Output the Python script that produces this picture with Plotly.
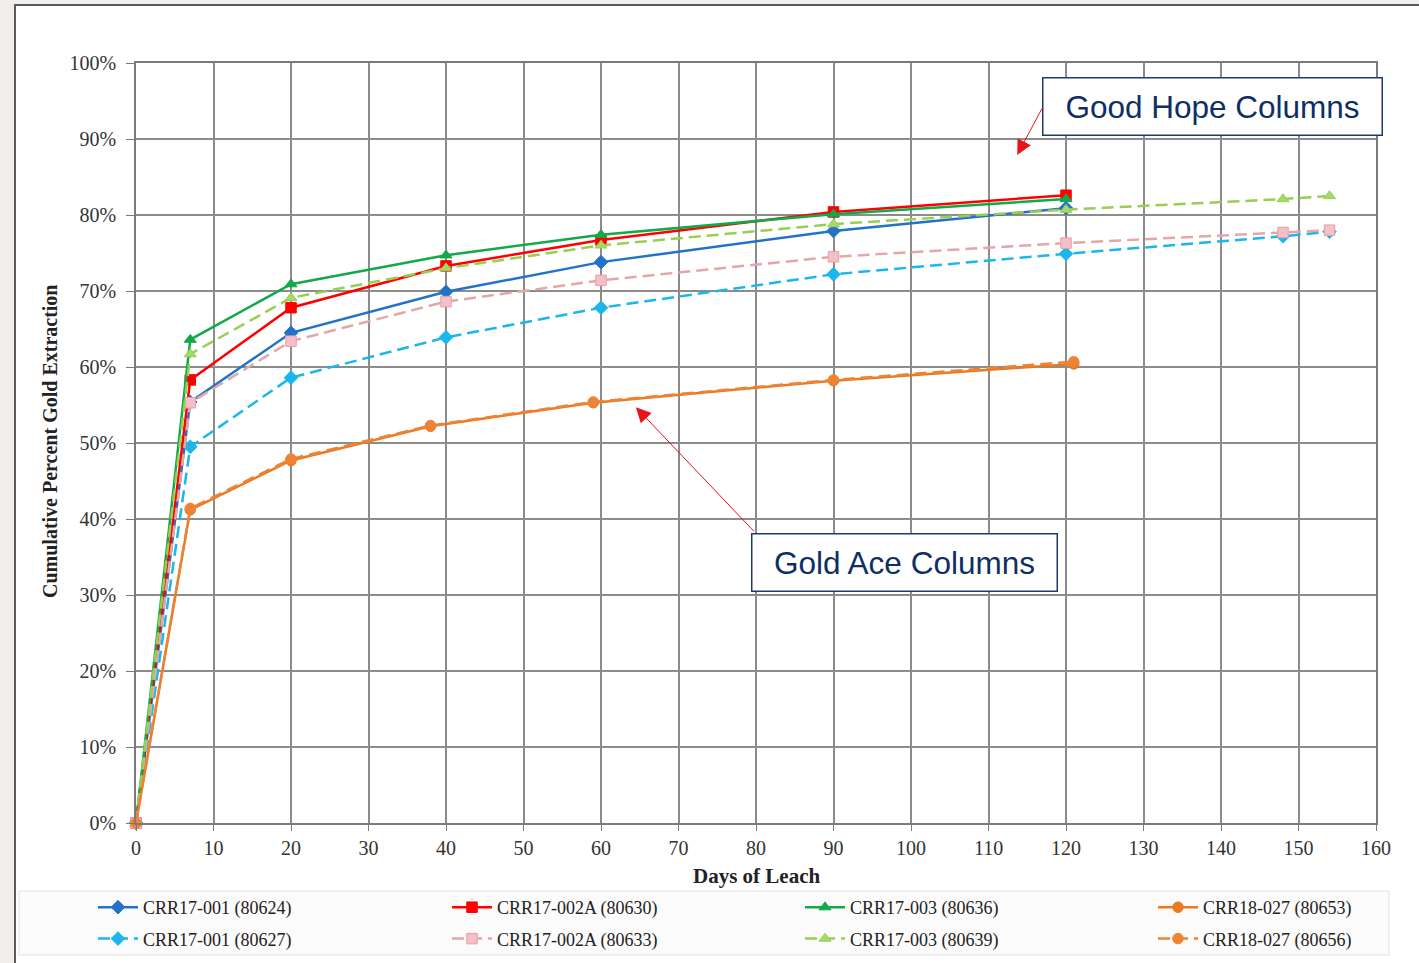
import plotly.graph_objects as go

# ---------------- data ----------------
days_gh = [0, 7, 20, 40, 60, 90, 120]
days_gh_ext = [0, 7, 20, 40, 60, 90, 120, 148, 154]
days_ga = [0, 7, 20, 38, 59, 90, 121]

crr17_001_80624 = [0.0, 0.554, 0.645, 0.699, 0.738, 0.779, 0.809]
crr17_002a_80630 = [0.0, 0.583, 0.678, 0.733, 0.767, 0.804, 0.826]
crr17_003_80636 = [0.0, 0.636, 0.709, 0.747, 0.774, 0.801, 0.821]
crr18_027_80653 = [0.0, 0.412, 0.477, 0.522, 0.553, 0.582, 0.604]

crr17_001_80627 = [0.0, 0.495, 0.586, 0.639, 0.678, 0.722, 0.749, 0.772, 0.778]
crr17_002a_80633 = [0.0, 0.553, 0.634, 0.686, 0.714, 0.745, 0.763, 0.777, 0.780]
crr17_003_80639 = [0.0, 0.617, 0.691, 0.730, 0.760, 0.788, 0.807, 0.821, 0.825]
crr18_027_80656 = [0.0, 0.414, 0.479, 0.523, 0.554, 0.583, 0.607]

x_ticks = list(range(0, 161, 10))

FONT_SERIF = "Liberation Serif, Times New Roman, serif"
FONT_SANS = "Liberation Sans, Arial, sans-serif"
DASH = "12px,6px"

# name, x, y, line colour, dash, symbol, marker fill, marker edge, legend column
series = [
    ("CRR17-001 (80624)", days_gh, crr17_001_80624, "#2372C9", "solid", "diamond", "#2372C9", "#2372C9", "legend"),
    ("CRR17-002A (80630)", days_gh, crr17_002a_80630, "#FF0000", "solid", "square", "#FF0000", "#FF0000", "legend2"),
    ("CRR17-003 (80636)", days_gh, crr17_003_80636, "#13A84A", "solid", "triangle-up", "#13A84A", "#13A84A", "legend3"),
    ("CRR18-027 (80653)", days_ga, crr18_027_80653, "#EA7A22", "solid", "circle", "#EA7A22", "#EA7A22", "legend4"),
    ("CRR17-001 (80627)", days_gh_ext, crr17_001_80627, "#1BB6EC", DASH, "diamond", "#1BB6EC", "#1BB6EC", "legend"),
    ("CRR17-002A (80633)", days_gh_ext, crr17_002a_80633, "#E3A7AA", DASH, "square", "#F4BFC6", "#E6A0A8", "legend2"),
    ("CRR17-003 (80639)", days_gh_ext, crr17_003_80639, "#97CF52", DASH, "triangle-up", "#A6D86A", "#97CF52", "legend3"),
    ("CRR18-027 (80656)", days_ga, crr18_027_80656, "#EE8433", DASH, "circle", "#EE8433", "#EE8433", "legend4"),
]

fig = go.Figure()
for i, (name, xs, ys, col, dash, sym, mfill, mline, lg) in enumerate(series):
    fig.add_trace(go.Scatter(
        x=xs, y=ys, name=name, mode="lines+markers",
        line=dict(color=col, width=2.5, dash=dash),
        marker=dict(symbol=sym, size=10.5, color=mfill, line=dict(color=mline, width=1)),
        cliponaxis=False, legend=lg, legendgroup="g%d" % i,
    ))

W, H = 1419, 963
legend_text_x = [143, 497, 850, 1203]
leg_common = dict(
    orientation="v", xref="container", yref="container",
    y=1 - 889 / H, xanchor="left", yanchor="top",
    font=dict(family=FONT_SERIF, size=18, color="#222222"),
    bgcolor="rgba(0,0,0,0)", borderwidth=0,
    traceorder="grouped", tracegroupgap=5, itemwidth=40,
)
legends = {}
for k, tx in enumerate(legend_text_x):
    key = "legend" if k == 0 else "legend%d" % (k + 1)
    legends[key] = dict(leg_common, x=(tx - 50) / W)

fig.update_layout(
    width=W, height=H,
    paper_bgcolor="#F1EFEC",
    plot_bgcolor="white",
    margin=dict(l=136, r=43, t=63, b=140, autoexpand=False),
    showlegend=True,
    font=dict(family=FONT_SERIF, color="#333333"),
    **legends,
)

fig.update_xaxes(
    range=[0, 160], tickvals=x_ticks, ticktext=[str(v) for v in x_ticks],
    showgrid=True, gridcolor="#8C8C8C", gridwidth=1.5,
    showline=True, linecolor="#7A7A7A", linewidth=1.5, mirror=True,
    ticks="outside", ticklen=6, tickcolor="#7A7A7A", ticklabelstandoff=0,
    tickfont=dict(family=FONT_SERIF, size=20, color="#333333"),
    zeroline=False, automargin=False,
)
fig.update_yaxes(
    range=[0, 1], dtick=0.1, tickformat=".0%",
    showgrid=True, gridcolor="#8C8C8C", gridwidth=1.5,
    showline=True, linecolor="#7A7A7A", linewidth=1.5, mirror=True,
    ticks="outside", ticklen=8, tickcolor="#7A7A7A", ticklabelstandoff=6,
    tickfont=dict(family=FONT_SERIF, size=20, color="#333333"),
    zeroline=False, automargin=False,
)

PW, PH = 1240.0, 760.0
def px_x(p):
    return (p - 136) / PW
def px_y(p):
    return (823 - p) / PH

# axis titles
fig.add_annotation(x=px_x(50), y=px_y(442), xref="paper", yref="paper", textangle=-90,
                   text="<b>Cumulative Percent Gold Extraction</b>", showarrow=False,
                   font=dict(family=FONT_SERIF, size=20, color="#222222"),
                   xanchor="center", yanchor="middle")
fig.add_annotation(x=px_x(756), y=px_y(876), xref="paper", yref="paper",
                   text="<b>Days of Leach</b>", showarrow=False,
                   font=dict(family=FONT_SERIF, size=21, color="#222222"),
                   xanchor="center", yanchor="middle")

# white slide panel
fig.add_shape(type="rect", xref="paper", yref="paper",
              x0=px_x(15), x1=px_x(1430), y0=px_y(975), y1=px_y(5),
              fillcolor="white", line=dict(color="#5A5A5A", width=2), layer="below")
# legend box
fig.add_shape(type="rect", xref="paper", yref="paper",
              x0=px_x(19), x1=px_x(1389), y0=px_y(955), y1=px_y(891),
              fillcolor="#FBFBFB", line=dict(color="#E2E2E2", width=1), layer="below")

# callout boxes
fig.add_annotation(x=138.9, y=0.943, xref="x", yref="y", text="Good Hope Columns",
                   showarrow=False, font=dict(family=FONT_SANS, size=31.5, color="#0E2F66"),
                   bordercolor="#1F3B6E", borderwidth=1.5, bgcolor="white",
                   width=336, height=54, xanchor="center", yanchor="middle")
fig.add_annotation(x=99.2, y=0.343, xref="x", yref="y", text="Gold Ace Columns",
                   showarrow=False, font=dict(family=FONT_SANS, size=31.5, color="#0E2F66"),
                   bordercolor="#1F3B6E", borderwidth=1.5, bgcolor="white",
                   width=302, height=54, xanchor="center", yanchor="middle")
# arrows
fig.add_annotation(x=113.7, y=0.879, xref="x", yref="y", ax=117.0, ay=0.942, axref="x", ayref="y",
                   text="", showarrow=True, arrowhead=2, arrowsize=3, arrowwidth=1, arrowcolor="#E8141B")
fig.add_annotation(x=64.5, y=0.547, xref="x", yref="y", ax=79.9, ay=0.382, axref="x", ayref="y",
                   text="", showarrow=True, arrowhead=2, arrowsize=3, arrowwidth=1, arrowcolor="#E8141B")

fig.write_html("out.html", config={"displayModeBar": False},
               post_script="document.body.style.margin='0';document.body.style.overflow='hidden';")
